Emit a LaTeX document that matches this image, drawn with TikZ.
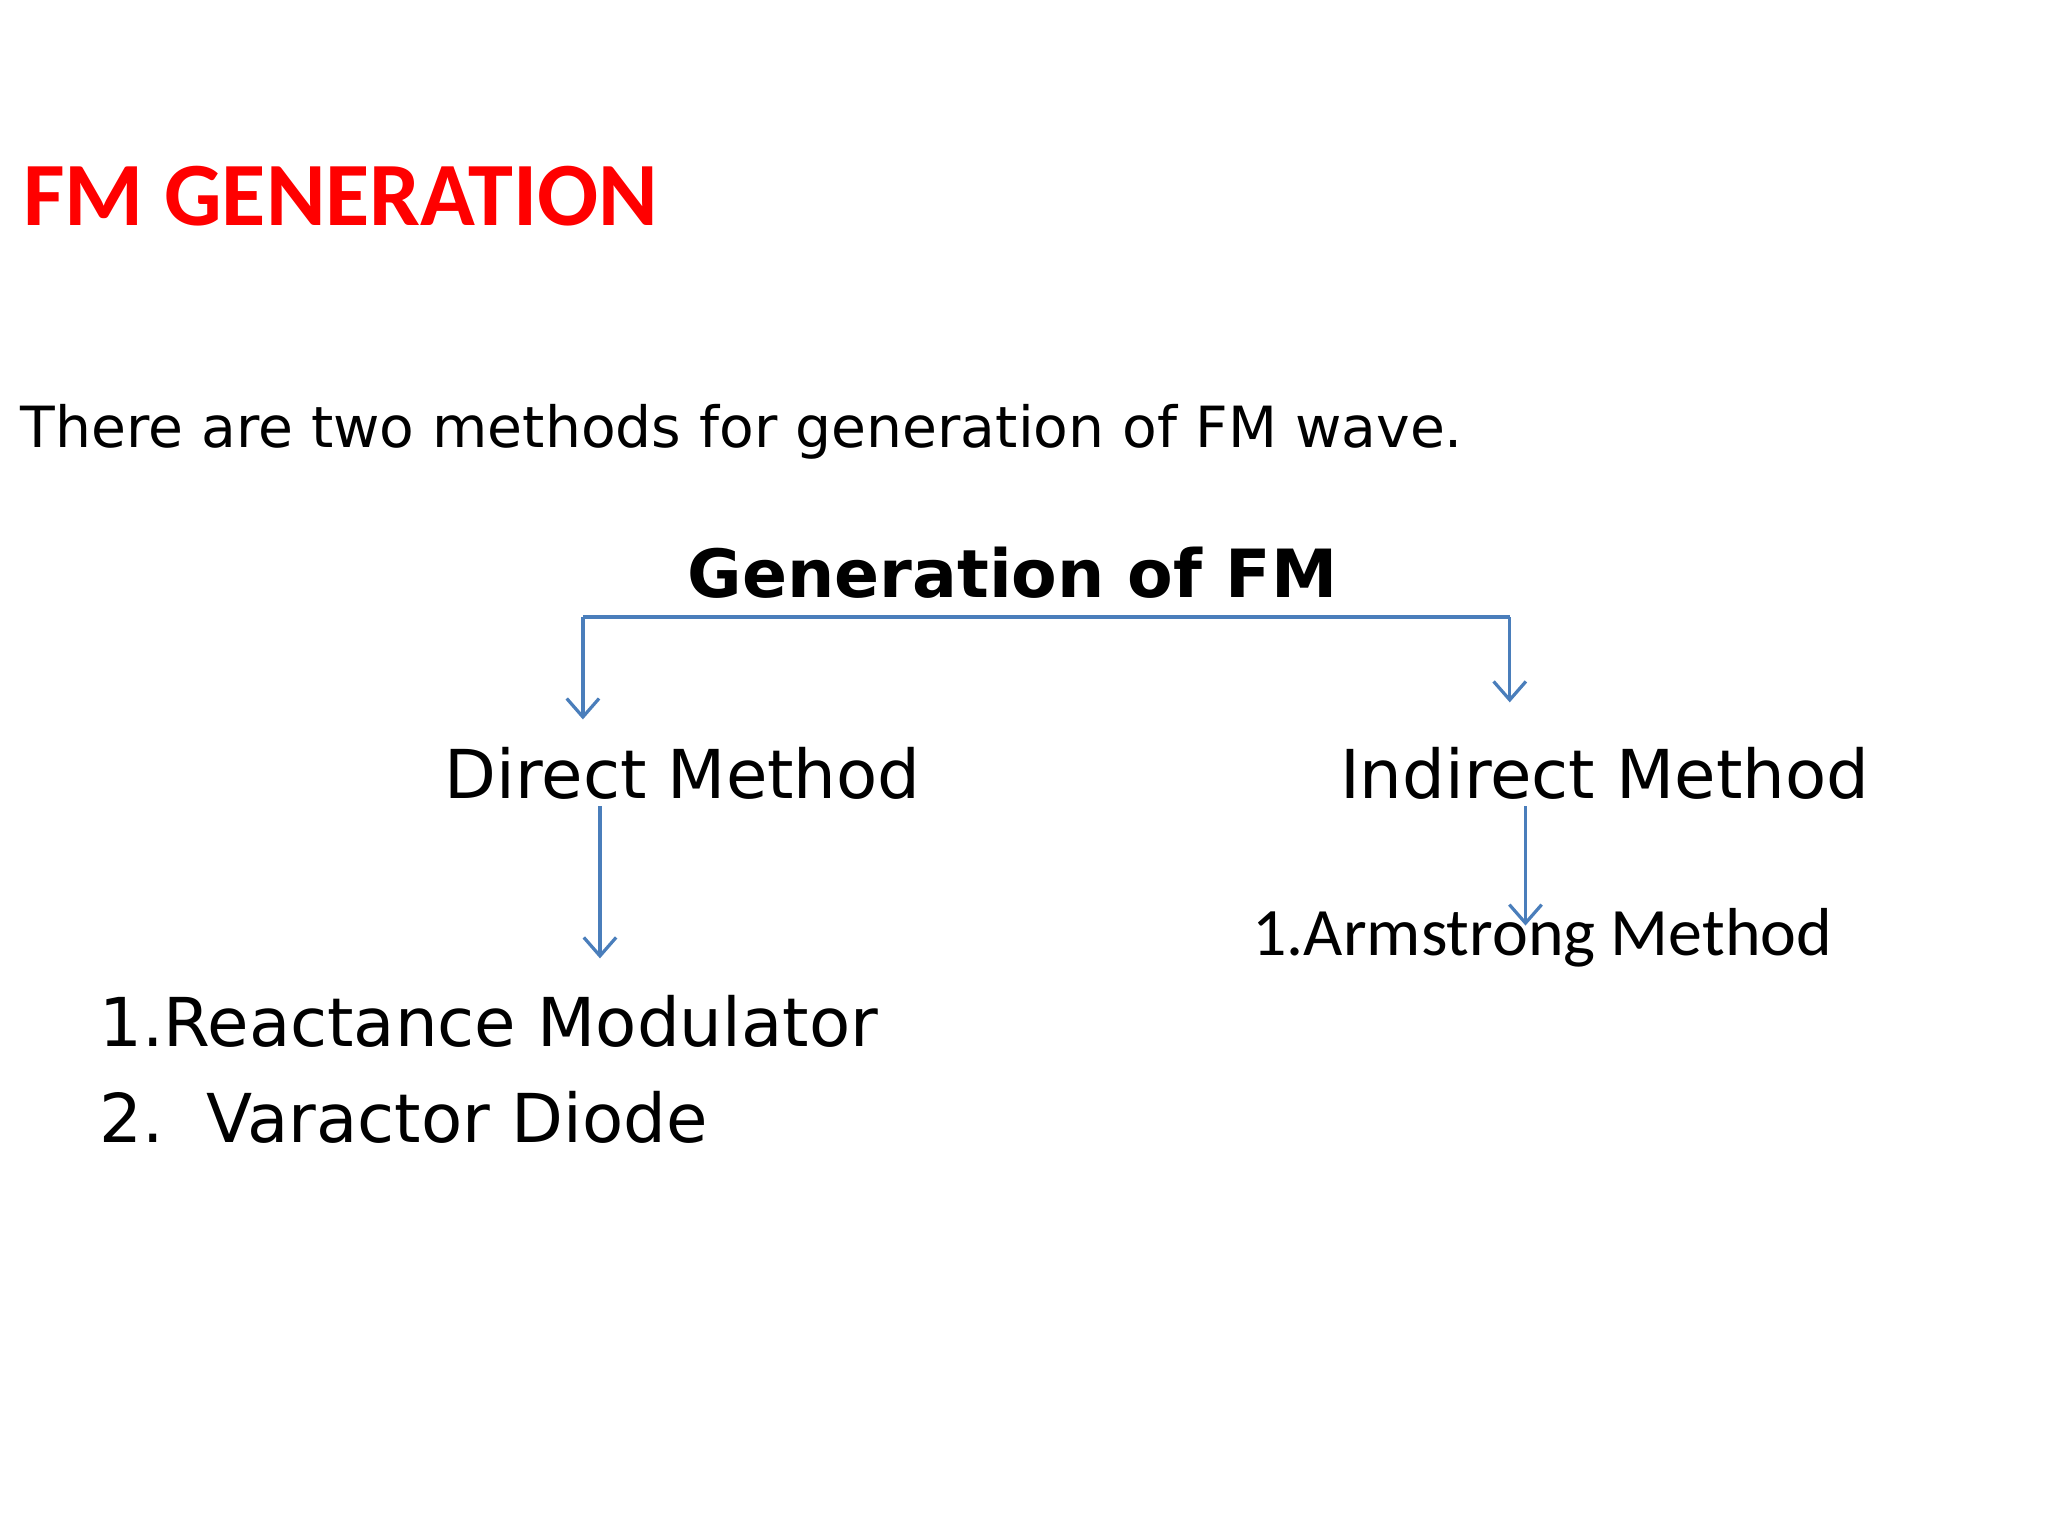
\documentclass[tikz,border=0pt]{standalone}
\usepackage{fontspec}
\setmainfont{DejaVu Sans}
\newfontfamily\calfont{Carlito}
\usetikzlibrary{arrows.meta}
\definecolor{ln}{HTML}{4A7EBB}
\definecolor{tred}{HTML}{FF0000}
\tikzset{t/.style={anchor=base west,inner sep=0pt},
 conn/.style={draw=ln,line width=0.7pt,-{Straight Barb[length=4pt,width=7pt]}}}
\begin{document}
\begin{tikzpicture}[x=0.01cm,y=-0.01cm]
\useasboundingbox (0,0) rectangle (1560,1170);
\node[t,text=tred,font=\calfont\bfseries\fontsize{19.6}{24}\selectfont] (title) at (17,172) {FM GENERATION};
\node[t,font=\fontsize{12.3}{15}\selectfont] (intro) at (15,341) {There are two methods for generation of FM wave.};
\node[t,font=\bfseries\fontsize{14.4}{18}\selectfont] (gen) at (523,455) {Generation of FM};
\node[t,font=\fontsize{14.6}{19}\selectfont] (dir) at (338,608) {Direct Method};
\node[t,font=\fontsize{14.6}{19}\selectfont] (ind) at (1020,608) {Indirect Method};
\node[t,font=\fontsize{14.6}{19}\selectfont] (r1) at (75,797) {1.Reactance Modulator};
\node[t,font=\fontsize{14.6}{19}\selectfont] (r2) at (75,870) {2.\ \ Varactor Diode};
\node[t,font=\calfont\fontsize{14.7}{19}\selectfont] (arm) at (953,728) {1.Armstrong Method};
\coordinate (a) at (444,470); \coordinate (b) at (1150,470);
\coordinate (ae) at (444,548); \coordinate (be) at (1150,535);
\draw[draw=ln,line width=0.7pt] (a) -- (b);
\draw[conn] (a) -- (ae);
\draw[conn] (b) -- (be);
\coordinate (d1) at (457,614); \coordinate (d2) at (457,730);
\coordinate (i1) at (1162,614); \coordinate (i2) at (1162,705);
\draw[conn] (d1) -- (d2);
\draw[conn] (i1) -- (i2);
\end{tikzpicture}
\end{document}
